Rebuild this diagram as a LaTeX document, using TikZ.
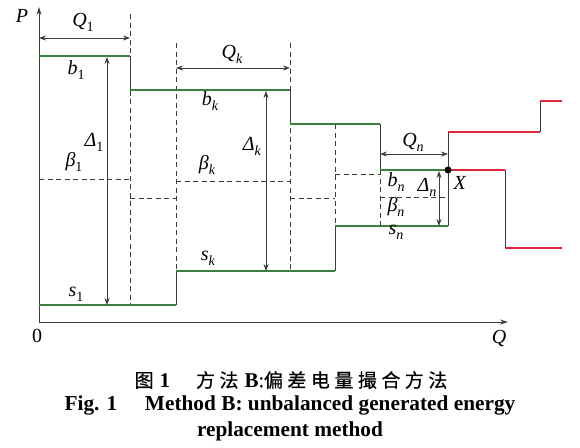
\documentclass[tikz,border=0pt]{standalone}
\usepackage{fontspec}
\setmainfont{Liberation Serif}
\newfontfamily\cjk{Noto Sans CJK SC}[FakeBold=0.6]
\usetikzlibrary{arrows.meta}
\definecolor{stepgreen}{RGB}{58,128,62}
\definecolor{stepred}{RGB}{222,40,58}
\definecolor{axisgray}{RGB}{60,60,60}
\newcommand{\lb}[2]{\textit{#1}\raisebox{-0.55ex}{\fontsize{14}{14}\selectfont #2}}
\newcommand{\gp}{\hspace{4.5pt}}
\tikzset{
  axisline/.style={draw=axisgray, line width=0.9pt},
  dashline/.style={draw=axisgray, line width=0.8pt, dash pattern=on 5pt off 3.5pt},
  solidline/.style={draw=axisgray, line width=1pt},
  greenline/.style={draw=stepgreen, line width=2pt},
  redline/.style={draw=stepred, line width=2pt},
  dimarrow/.style={draw=axisgray, line width=0.8pt, {Stealth[length=7pt,width=5pt]}-{Stealth[length=7pt,width=5pt]}},
  lab/.style={font=\fontsize{20}{20}\selectfont, inner sep=0pt},
  capzh/.style={font=\fontsize{19}{19}\selectfont\cjk, inner sep=0pt},
  capen/.style={font=\fontsize{21.3}{21.3}\selectfont\bfseries, inner sep=0pt}
}
\begin{document}
\begin{tikzpicture}[x=1pt,y=-1pt]
\useasboundingbox (0,0) rectangle (580,447);
% coordinates
\coordinate (O) at (39,322);
\coordinate (ytop) at (39,7);
\coordinate (xend) at (508,322);
% dashed lines
\draw[dashline] (130,14) -- (130,305);
\draw[dashline] (176,43) -- (176,271);
\draw[dashline] (290,43) -- (290,271);
\draw[dashline] (335,124) -- (335,226);
\draw[dashline] (380,170) -- (380,226);
\draw[dashline] (39,179) -- (130,179);
\draw[dashline] (130,198) -- (176,198);
\draw[dashline] (176,181) -- (290,181);
\draw[dashline] (290,198) -- (335,198);
\draw[dashline] (335,174) -- (380,174);
\draw[dashline] (380,197) -- (448,197);
% solid risers
\draw[solidline] (130,56) -- (130,90);
\draw[solidline] (176,271) -- (176,305);
\draw[solidline] (290,90) -- (290,124);
\draw[solidline] (335,226) -- (335,271);
\draw[solidline] (380,124) -- (380,170);
\draw[solidline] (448,132) -- (448,226);
\draw[solidline] (505,170) -- (505,248);
\draw[solidline] (540,101) -- (540,132);
% axes
\draw[axisline,-{Stealth[length=8pt,width=5pt]}] (O) -- (ytop);
\draw[axisline,-{Stealth[length=8pt,width=5pt]}] (O) -- (xend);
% green steps
\draw[greenline] (39,56) -- (130,56);
\draw[greenline] (130,90) -- (290,90);
\draw[greenline] (290,124) -- (380,124);
\draw[greenline] (380,170) -- (448,170);
\draw[greenline] (39,305) -- (176,305);
\draw[greenline] (176,271) -- (335,271);
\draw[greenline] (335,226) -- (448,226);
% red steps
\draw[redline] (448,132) -- (540,132);
\draw[redline] (540,101) -- (562,101);
\draw[redline] (448,170) -- (505,170);
\draw[redline] (505,248) -- (562,248);
% dimension arrows
\coordinate (q1a) at (39,38); \coordinate (q1b) at (130,38);
\coordinate (qka) at (176,68); \coordinate (qkb) at (290,68);
\coordinate (qna) at (380,154); \coordinate (qnb) at (448,154);
\coordinate (d1a) at (107,57); \coordinate (d1b) at (107,305);
\coordinate (dka) at (266,91); \coordinate (dkb) at (266,271);
\coordinate (dna) at (439,171); \coordinate (dnb) at (439,226);
\draw[dimarrow] (q1a) -- (q1b);
\draw[dimarrow] (qka) -- (qkb);
\draw[dimarrow] (qna) -- (qnb);
\draw[dimarrow] (d1a) -- (d1b);
\draw[dimarrow] (dka) -- (dkb);
\draw[dimarrow] (dna) -- (dnb);
% point X
\node[circle, fill=black, inner sep=0pt, minimum size=7pt] (X) at (448,170) {};
% labels
\node[lab] (lP) at (22,16) {\textit{P}};
\node[lab] (lQ1) at (83,22) {\lb{Q}{1}};
\node[lab] (lb1) at (76,70) {\lb{b}{1}};
\node[lab] (lD1) at (94,142) {\lb{Δ}{1}};
\node[lab] (lB1) at (74,162) {\lb{β}{1}};
\node[lab] (ls1) at (76,294) {\lb{s}{1}};
\node[lab] (lQk) at (232,54) {\lb{Q}{\textit{k}}};
\node[lab] (lbk) at (210,101) {\lb{b}{\textit{k}}};
\node[lab] (lDk) at (252,146) {\lb{Δ}{\textit{k}}};
\node[lab] (lBk) at (207,165) {\lb{β}{\textit{k}}};
\node[lab] (lsk) at (208,258) {\lb{s}{\textit{k}}};
\node[lab] (lQn) at (413,142) {\lb{Q}{\textit{n}}};
\node[lab] (lbn) at (396,182) {\lb{b}{\textit{n}}};
\node[lab] (lDn) at (427,187) {\lb{Δ}{\textit{n}}};
\node[lab] (lBn) at (396,207) {\lb{β}{\textit{n}}};
\node[lab] (lsn) at (396,232) {\lb{s}{\textit{n}}};
\node[lab] (lX) at (460,183) {\textit{X}};
\node[lab] (l0) at (37,336) {0};
\node[lab] (lQ) at (499,338) {\textit{Q}};
% caption
\node[capzh] (cap1) at (291,380) {图\hspace{6pt}{\rmfamily\bfseries\fontsize{21}{21}\selectfont 1}\hspace{26pt}方\gp 法\hspace{6pt}{\rmfamily\bfseries\fontsize{21}{21}\selectfont B}:偏\gp 差\gp 电\gp 量\gp 撮\gp 合\gp 方\gp 法};
\node[capen] (cap2) at (290,405) {Fig. 1\hspace{1.3em}Method B: unbalanced generated energy};
\node[capen] (cap3) at (290,431) {replacement method};
\end{tikzpicture}
\end{document}
